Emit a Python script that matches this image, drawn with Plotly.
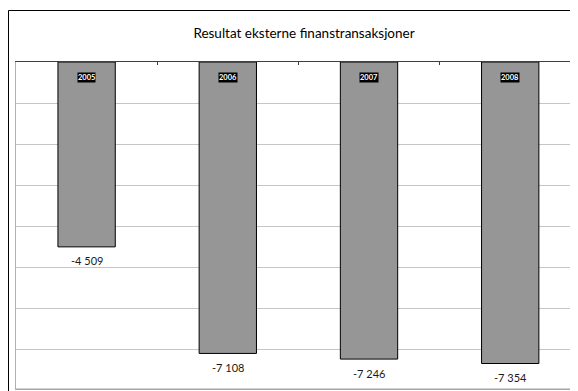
import plotly.graph_objects as go

years = ["2005", "2006", "2007", "2008"]
values = [-4509, -7108, -7246, -7354]
title_text = "Resultat eksterne finanstransaksjoner"

FONT = "Lato"

# page body has an 8px margin; the figure is sized/positioned to compensate
W, H = 570, 383
L, R, T, B = 8, 0, 54, 1
PW = W - L - R
PH = H - T - B

fig = go.Figure()
fig.add_trace(go.Bar(
    x=years, y=values, width=0.406,
    marker=dict(color="#969696", line=dict(color="#000000", width=1)),
    hoverinfo="skip",
))

annotations = []
for i, (yr, v) in enumerate(zip(years, values)):
    annotations.append(dict(
        x=i, y=v, xref="x", yref="y", text=f"{v:,}".replace(",", " "),
        showarrow=False, yanchor="middle", yshift=-14,
        font=dict(family=FONT, size=11, color="#1a1a1a"),
    ))
    annotations.append(dict(
        x=i, y=1, xref="x", yref="paper", text=f"<b>{yr}</b>",
        showarrow=False, yanchor="middle", yshift=-15,
        bgcolor="#000000", borderpad=0,
        font=dict(family=FONT, size=7.5, color="#ffffff"),
    ))

fig.update_layout(
    width=W, height=H,
    margin=dict(l=L, r=R, t=T, b=B, autoexpand=False),
    paper_bgcolor="white", plot_bgcolor="white",
    showlegend=False,
    title=dict(text=title_text, x=(304 - 8) / W, xref="container", xanchor="center",
               y=1 - (33 - 8) / H, yref="container", yanchor="middle",
               font=dict(family=FONT, size=13.5, color="#000000")),
    xaxis=dict(type="category", side="top", range=[-0.5, 3.48], showline=True,
               linecolor="#404040", linewidth=1, ticks="inside", ticklen=3,
               tickcolor="#404040", tickson="boundaries", showticklabels=False,
               showgrid=False, zeroline=False, fixedrange=True),
    yaxis=dict(range=[-8000, 0], dtick=1000, showgrid=True, gridcolor="#c6c6c6",
               gridwidth=1, showticklabels=False, zeroline=False,
               showline=True, linecolor="#b0b0b0", linewidth=1, ticks="",
               fixedrange=True),
    annotations=annotations,
    shapes=[
        dict(type="rect", xref="paper", yref="paper",
             x0=(0.5 - L) / PW, x1=1.2, y0=-0.2, y1=(T + PH - 2.5) / PH,
             line=dict(color="#000000", width=1), layer="above"),
        dict(type="line", xref="paper", yref="paper", x0=0, x1=1, y0=0.002, y1=0.002,
             line=dict(color="#a6a6a6", width=1.5)),
    ],
)

fig.write_html("out.html")
